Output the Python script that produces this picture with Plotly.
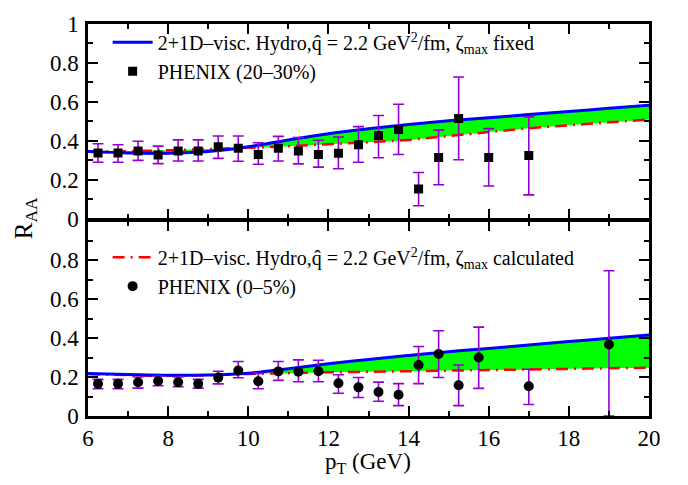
import plotly.graph_objects as go
from plotly.subplots import make_subplots

# ---- model curves (R_AA vs pT) ----
pt_curve = [6, 7, 8, 9, 10, 11, 12, 13, 14, 15, 16, 17, 18, 19, 20]

# 20-30% centrality, zeta_max fixed (upper, blue) and calculated (lower, red)
fixed_2030 = [0.345, 0.338, 0.336, 0.345, 0.370, 0.405, 0.437, 0.462, 0.484, 0.503,
              0.519, 0.535, 0.551, 0.567, 0.583]
calc_2030 = [0.345, 0.347, 0.352, 0.358, 0.365, 0.373, 0.383, 0.393, 0.405, 0.425,
             0.445, 0.465, 0.480, 0.495, 0.510]

# 0-5% centrality
fixed_005 = [0.218, 0.213, 0.209, 0.211, 0.220, 0.243, 0.268, 0.290, 0.311, 0.330,
             0.347, 0.365, 0.382, 0.399, 0.416]
calc_005 = [0.215, 0.210, 0.206, 0.210, 0.216, 0.220, 0.224, 0.227, 0.230, 0.233,
            0.236, 0.239, 0.242, 0.245, 0.248]

# ---- PHENIX data, 20-30% ----
pt_2030 = [6.25, 6.75, 7.25, 7.75, 8.25, 8.75, 9.25, 9.75, 10.25, 10.75, 11.25,
           11.75, 12.25, 12.75, 13.25, 13.75, 14.25, 14.75, 15.25, 16.0, 17.0]
raa_2030 = [0.338, 0.338, 0.348, 0.327, 0.348, 0.348, 0.370, 0.362, 0.330, 0.362,
            0.348, 0.330, 0.337, 0.380, 0.427, 0.458, 0.153, 0.315, 0.515, 0.315, 0.325]
err_up_2030 = [0.047, 0.042, 0.050, 0.046, 0.057, 0.057, 0.055, 0.063, 0.060, 0.061,
               0.069, 0.073, 0.083, 0.093, 0.103, 0.130, 0.085, 0.140, 0.213, 0.148, 0.198]
err_dn_2030 = [0.048, 0.048, 0.048, 0.044, 0.051, 0.051, 0.060, 0.067, 0.050, 0.065,
               0.066, 0.065, 0.080, 0.090, 0.114, 0.128, 0.086, 0.140, 0.212, 0.147, 0.202]

# ---- PHENIX data, 0-5% ----
pt_005 = [6.25, 6.75, 7.25, 7.75, 8.25, 8.75, 9.25, 9.75, 10.25, 10.75, 11.25,
          11.75, 12.25, 12.75, 13.25, 13.75, 14.25, 14.75, 15.25, 15.75, 17.0, 19.0]
raa_005 = [0.165, 0.165, 0.173, 0.180, 0.173, 0.165, 0.197, 0.234, 0.178, 0.229,
           0.227, 0.230, 0.168, 0.147, 0.123, 0.109, 0.262, 0.318, 0.158, 0.300, 0.153, 0.367]
err_up_005 = [0.023, 0.023, 0.027, 0.025, 0.027, 0.023, 0.033, 0.046, 0.041, 0.051,
              0.061, 0.056, 0.044, 0.051, 0.051, 0.057, 0.095, 0.120, 0.104, 0.156, 0.087, 0.379]
err_dn_005 = [0.025, 0.025, 0.030, 0.025, 0.023, 0.022, 0.032, 0.038, 0.038, 0.046,
              0.051, 0.054, 0.051, 0.052, 0.047, 0.056, 0.096, 0.120, 0.105, 0.158, 0.094, 0.367]

y_ticks_top = [0, 0.2, 0.4, 0.6, 0.8, 1.0]
y_ticks_bot = [0, 0.2, 0.4, 0.6, 0.8]
y_minor = [0.1, 0.3, 0.5, 0.7, 0.9]
x_ticks = [6, 8, 10, 12, 14, 16, 18, 20]
x_minor = [7, 9, 11, 13, 15, 17, 19]

label_fixed = "2+1D–visc. Hydro,q&#770; = 2.2 GeV<sup>2</sup>/fm, ζ<sub>max</sub> fixed"
label_calc = "2+1D–visc. Hydro,q&#770; = 2.2 GeV<sup>2</sup>/fm, ζ<sub>max</sub> calculated"

BLUE = "#0000ff"
RED = "#ff0000"
GREEN = "#00ff00"
PURPLE = "#9400d3"
FONT = "Liberation Serif"
FRAME_W = 2.5
PLOT_H = 404

# small gap so the two panels' frame lines sit on top of each other
fig = make_subplots(rows=2, cols=1, shared_xaxes=True,
                    vertical_spacing=FRAME_W / PLOT_H)


def add_band(row, upper, lower, legend_name, leg, upper_in_legend):
    # invisible lower edge, then the green band filled up to the upper curve
    fig.add_trace(go.Scatter(x=pt_curve, y=lower, mode="lines", line=dict(width=0, shape="spline"),
                             showlegend=False, hoverinfo="skip"), row=row, col=1)
    fig.add_trace(go.Scatter(x=pt_curve, y=upper, mode="lines", line=dict(width=0, shape="spline"),
                             fill="tonexty", fillcolor=GREEN, showlegend=False,
                             hoverinfo="skip"), row=row, col=1)
    fig.add_trace(go.Scatter(x=pt_curve, y=lower, mode="lines",
                             line=dict(color=RED, width=2.5, dash="12px,6px,2px,6px", shape="spline"),
                             name=legend_name, legend=leg, showlegend=not upper_in_legend),
                  row=row, col=1)
    fig.add_trace(go.Scatter(x=pt_curve, y=upper, mode="lines",
                             line=dict(color=BLUE, width=3, shape="spline"),
                             name=legend_name, legend=leg, showlegend=upper_in_legend),
                  row=row, col=1)


add_band(1, fixed_2030, calc_2030, label_fixed, "legend", True)
add_band(2, fixed_005, calc_005, label_calc, "legend2", False)

fig.add_trace(go.Scatter(
    x=pt_2030, y=raa_2030, mode="markers", name="PHENIX (20–30%)", legend="legend",
    marker=dict(symbol="square", size=9, color="black"),
    error_y=dict(type="data", symmetric=False, array=err_up_2030, arrayminus=err_dn_2030,
                 color=PURPLE, thickness=1.6, width=5.5)), row=1, col=1)

fig.add_trace(go.Scatter(
    x=pt_005, y=raa_005, mode="markers", name="PHENIX (0–5%)", legend="legend2",
    marker=dict(symbol="circle", size=10, color="black"),
    error_y=dict(type="data", symmetric=False, array=err_up_005, arrayminus=err_dn_005,
                 color=PURPLE, thickness=1.6, width=5.5)), row=2, col=1)

axis_common = dict(
    showline=True, linecolor="black", linewidth=FRAME_W, mirror="allticks",
    ticks="inside", ticklen=10, tickwidth=2, tickcolor="black",
    showgrid=False, zeroline=False,
    tickfont=dict(family=FONT, size=23, color="black"),
)

fig.update_xaxes(range=[6, 20], tickmode="array", tickvals=x_ticks,
                 minor=dict(tickmode="array", tickvals=x_minor, ticks="inside",
                            ticklen=5, tickwidth=1.5, tickcolor="black"),
                 ticklabelstandoff=0, **axis_common)
fig.update_xaxes(showticklabels=False, row=1, col=1)

fig.update_yaxes(range=[0, 1], tickmode="array",
                 minor=dict(tickmode="array", tickvals=y_minor, ticks="inside",
                            ticklen=5, tickwidth=1.5, tickcolor="black"),
                 ticklabelstandoff=2, **axis_common)
fig.update_yaxes(tickvals=y_ticks_top, row=1, col=1)
fig.update_yaxes(tickvals=y_ticks_bot, row=2, col=1)

legend_common = dict(
    xref="paper", yref="paper", xanchor="left", yanchor="top",
    bgcolor="rgba(0,0,0,0)", borderwidth=0,
    font=dict(family=FONT, size=20, color="black"),
    tracegroupgap=0, traceorder="normal", itemwidth=40,
)

fig.update_layout(
    width=688, height=485,
    margin=dict(l=88, r=39, t=12, b=69),
    paper_bgcolor="white", plot_bgcolor="white",
    font=dict(family=FONT, color="black"),
    legend=dict(x=0.035, y=1.003, **legend_common),
    legend2=dict(x=0.035, y=0.455, **legend_common),
    annotations=[
        dict(text="R<sub>AA</sub>", xref="paper", yref="paper", x=-0.112, y=0.505,
             xanchor="center", yanchor="middle",
             showarrow=False, textangle=-90, font=dict(family=FONT, size=25, color="black")),
        dict(text="p<sub>T</sub> (GeV)", xref="paper", yref="paper", x=0.499, y=-0.121,
             xanchor="center", yanchor="middle",
             showarrow=False, font=dict(family=FONT, size=23, color="black")),
    ],
)

fig.write_html("out.html")
